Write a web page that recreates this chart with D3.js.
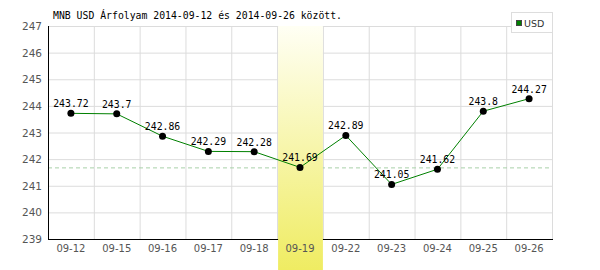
<!DOCTYPE html>
<html>
<head>
<meta charset="utf-8">
<script src="https://cdn.jsdelivr.net/npm/d3@7"></script>
<style>
  body { margin: 0; background: #fff; }
  svg { display: block; }
</style>
</head>
<body>
<script>
// adatok
const dates = ["09-12", "09-15", "09-16", "09-17", "09-18", "09-19", "09-22", "09-23", "09-24", "09-25", "09-26"];
const rates = [243.72, 243.7, 242.86, 242.29, 242.28, 241.69, 242.89, 241.05, 241.62, 243.8, 244.27];
const yTicks = [239, 240, 241, 242, 243, 244, 245, 246, 247];
const highlight = "09-19";
const refValue = 241.69;

const width = 600, height = 270;
const mLeft = 48, mRight = 552, mTop = 26, mBottom = 239;

const svg = d3.select("body").append("svg")
  .attr("width", width)
  .attr("height", height);

const x = d3.scaleBand().domain(dates).range([mLeft, mRight]);
const y = d3.scaleLinear().domain([239, 247]).range([mBottom, mTop]);

// sárga kiemelés színátmenete
const grad = svg.append("defs").append("linearGradient")
  .attr("id", "hl").attr("x1", 0).attr("y1", 0).attr("x2", 0).attr("y2", 1);
grad.append("stop").attr("offset", "0%").attr("stop-color", "#fffff4");
grad.append("stop").attr("offset", "100%").attr("stop-color", "#efec62");

// rács
svg.append("g").selectAll("line").data(yTicks.slice(1)).join("line")
  .attr("x1", mLeft).attr("x2", mRight)
  .attr("y1", d => y(d) + 0.5).attr("y2", d => y(d) + 0.5)
  .attr("stroke", "#dcdcdc");
svg.append("g").selectAll("line").data(dates).join("line")
  .attr("x1", d => x(d) + x.bandwidth() + 0.5).attr("x2", d => x(d) + x.bandwidth() + 0.5)
  .attr("y1", mTop).attr("y2", mBottom)
  .attr("stroke", "#dcdcdc");

// referencia vonal
svg.append("line")
  .attr("x1", mLeft).attr("x2", mRight)
  .attr("y1", y(refValue) + 0.5).attr("y2", y(refValue) + 0.5)
  .attr("stroke", "#a8d0a8")
  .attr("stroke-dasharray", "4,3");

// tengelyek
svg.append("line")
  .attr("x1", mLeft + 0.5).attr("x2", mLeft + 0.5)
  .attr("y1", mTop).attr("y2", mBottom + 1)
  .attr("stroke", "#000");
svg.append("line")
  .attr("x1", mLeft).attr("x2", mRight + 1)
  .attr("y1", mBottom + 0.5).attr("y2", mBottom + 0.5)
  .attr("stroke", "#000");

// kiemelt nap
svg.append("rect")
  .attr("x", x(highlight) + 1)
  .attr("y", mTop)
  .attr("width", x.bandwidth() - 1)
  .attr("height", height - mTop)
  .attr("fill", "url(#hl)");

// tengelyfeliratok
svg.append("g").selectAll("text").data(yTicks).join("text")
  .attr("x", 42).attr("y", d => y(d) + 4)
  .attr("text-anchor", "end")
  .attr("font-family", "DejaVu Sans")
  .attr("font-size", 10.5)
  .attr("fill", "#555")
  .text(d => d);
svg.append("g").selectAll("text").data(dates).join("text")
  .attr("x", d => x(d) + x.bandwidth() / 2).attr("y", 252)
  .attr("text-anchor", "middle")
  .attr("font-family", "DejaVu Sans")
  .attr("font-size", 10)
  .attr("fill", "#555")
  .text(d => d);

// vonal és pontok
const cx = (d, i) => x(dates[i]) + x.bandwidth() / 2;
svg.append("path")
  .datum(rates)
  .attr("fill", "none")
  .attr("stroke", "#008000")
  .attr("stroke-width", 1)
  .attr("d", d3.line().x(cx).y(d => y(d)));
svg.append("g").selectAll("circle").data(rates).join("circle")
  .attr("cx", cx).attr("cy", d => y(d))
  .attr("r", 3.5)
  .attr("fill", "#000");
svg.append("g").selectAll("text").data(rates).join("text")
  .attr("x", cx).attr("y", d => y(d) - 6)
  .attr("text-anchor", "middle")
  .attr("font-family", "DejaVu Sans Mono")
  .attr("font-size", 9.8)
  .attr("fill", "#000")
  .text(d => d);

// cím
svg.append("text")
  .attr("x", 53).attr("y", 19)
  .attr("font-family", "DejaVu Sans Mono")
  .attr("font-size", 9.8)
  .attr("fill", "#000")
  .text("MNB USD Árfolyam 2014-09-12 és 2014-09-26 között.");

// jelmagyarázat
const legend = svg.append("g");
legend.append("rect")
  .attr("x", 511.5).attr("y", 12.5).attr("width", 41).attr("height", 20)
  .attr("fill", "#fff").attr("stroke", "#ddd");
legend.append("rect")
  .attr("x", 516.5).attr("y", 20.5).attr("width", 5).attr("height", 5)
  .attr("fill", "#008000").attr("stroke", "#444");
legend.append("text")
  .attr("x", 524).attr("y", 26.5)
  .attr("font-family", "DejaVu Sans")
  .attr("font-size", 9.5)
  .attr("fill", "#333")
  .text("USD");
</script>
</body>
</html>
